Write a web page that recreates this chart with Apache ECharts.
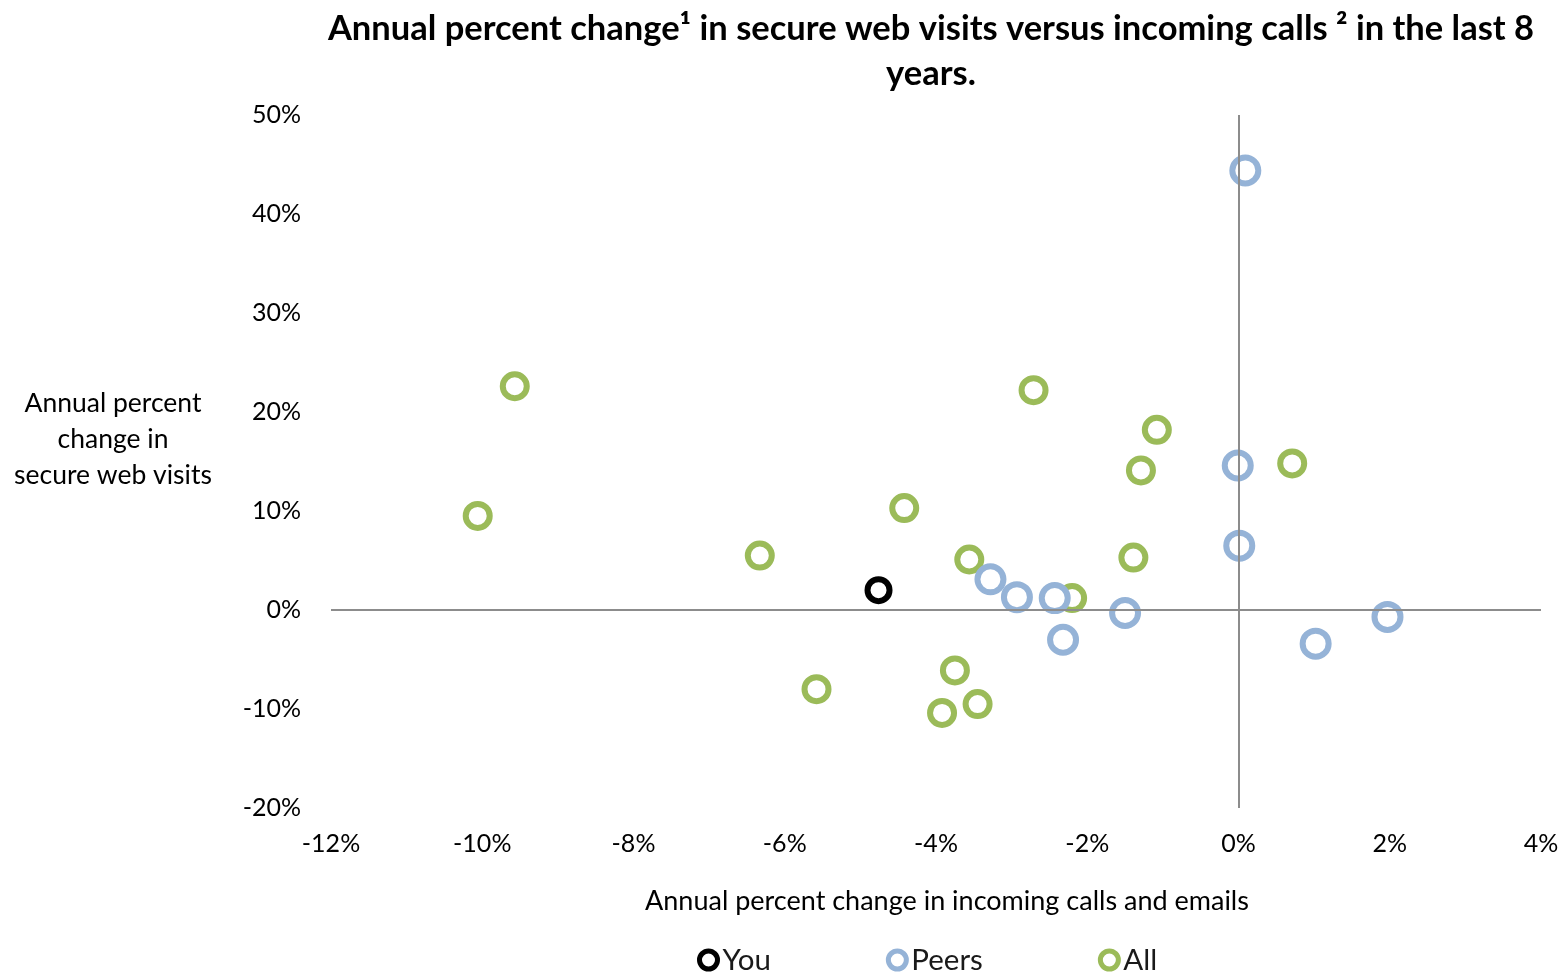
<!DOCTYPE html>
<html>
<head>
<meta charset="utf-8">
<title>Secure web visits vs incoming calls</title>
<script src="https://cdn.jsdelivr.net/npm/echarts@6/dist/echarts.min.js"></script>
<style>
  html, body { margin: 0; padding: 0; background: #ffffff; }
  #chart { width: 1564px; height: 974px; }
</style>
</head>
<body>
<div id="chart"></div>
<script>
// Annual % change in incoming calls and emails (x) vs secure web visits (y)
const youX = [-4.76];
const youY = [2.0];

const peersX = [0.09, -0.01, 0.01, -3.28, -2.93, -2.43, -2.32, -1.50, 1.02, 1.97];
const peersY = [44.4, 14.6, 6.5, 3.1, 1.3, 1.2, -3.0, -0.3, -3.4, -0.7];

const allX = [-9.57, -10.06, -6.33, -5.58, -4.42, -3.56, -3.75, -3.92, -3.45, -2.71, -2.20, -1.08, -1.29, -1.39, 0.71];
const allY = [22.6, 9.5, 5.5, -8.0, 10.3, 5.1, -6.1, -10.4, -9.5, 22.2, 1.2, 18.2, 14.1, 5.3, 14.8];

const xTicks = { min: -12, max: 4, step: 2 };
const yTicks = { min: -20, max: 50, step: 10 };

const seriesNames = ['You', 'Peers', 'All'];
const seriesColors = ['#000000', '#95B3D7', '#9BBB59'];

const titleText = 'Annual percent change\u00B9 in secure web visits versus incoming calls \u00B2 in the last 8\nyears.';
const xAxisTitle = 'Annual percent change in incoming calls and emails';
const yAxisTitle = 'Annual percent\nchange in\nsecure web visits';

const FONT = 'Lato';

function pairs(xs, ys) {
  return xs.map((x, i) => [x, ys[i]]);
}

const chart = echarts.init(document.getElementById('chart'), null, { renderer: 'canvas' });

function ringSeries(name, color, data, size, z) {
  return {
    name: name,
    type: 'scatter',
    data: data,
    symbol: 'circle',
    symbolSize: size,
    z: z,
    itemStyle: { color: '#ffffff', borderColor: color, borderWidth: 6, opacity: 1 },
    emphasis: { disabled: true }
  };
}

const allSeries = ringSeries(seriesNames[2], seriesColors[2], pairs(allX, allY), 24, 3);
const peerSeries = ringSeries(seriesNames[1], seriesColors[1], pairs(peersX, peersY), 26, 4);
const youSeries = ringSeries(seriesNames[0], seriesColors[0], pairs(youX, youY), 22, 5);

// Zero lines crossing inside the plot area
const zeroLines = {
  name: 'zero',
  type: 'scatter',
  data: [[0, 0]],
  symbolSize: 0,
  z: 1,
  silent: true,
  itemStyle: { opacity: 0 },
  markLine: {
    silent: true,
    symbol: ['none', 'none'],
    label: { show: false },
    lineStyle: { color: '#8c8c8c', width: 2, type: 'solid' },
    emphasis: { disabled: true },
    data: [{ xAxis: 0 }, { yAxis: 0 }]
  }
};

const option = {
  backgroundColor: '#ffffff',
  animation: false,
  textStyle: { fontFamily: FONT },
  title: {
    text: titleText,
    left: 926,
    top: 1,
    textAlign: 'center',
    textStyle: {
      fontFamily: FONT,
      fontSize: 34.5,
      fontWeight: 'bold',
      color: '#000000',
      lineHeight: 45
    }
  },
  legend: {
    data: seriesNames,
    left: 692,
    top: 939,
    icon: 'circle',
    itemWidth: 18,
    itemHeight: 18,
    itemGap: 115,
    itemStyle: { borderWidth: 5 },
    textStyle: { fontFamily: FONT, fontSize: 29.5, color: '#1a1a1a', lineHeight: 32 }
  },
  grid: { left: 331, right: 23, top: 115, bottom: 166, containLabel: false },
  xAxis: {
    type: 'value',
    min: xTicks.min,
    max: xTicks.max,
    interval: xTicks.step,
    name: xAxisTitle,
    nameLocation: 'middle',
    nameGap: 80,
    nameTextStyle: { fontFamily: FONT, fontSize: 27, color: '#000000', padding: [0, 0, 0, 22] },
    axisLine: { show: false },
    axisTick: { show: false },
    splitLine: { show: false },
    axisLabel: {
      margin: 23,
      fontFamily: FONT,
      fontSize: 25,
      color: '#000000',
      formatter: '{value}%'
    }
  },
  yAxis: {
    type: 'value',
    min: yTicks.min,
    max: yTicks.max,
    interval: yTicks.step,
    axisLine: { show: false },
    axisTick: { show: false },
    splitLine: { show: false },
    axisLabel: {
      margin: 30,
      fontFamily: FONT,
      fontSize: 25,
      color: '#000000',
      formatter: '{value}%'
    }
  },
  // Three-line y-axis title, positioned by its centre point
  graphic: [{
    type: 'text',
    x: 113,
    y: 439,
    style: {
      text: yAxisTitle,
      fontFamily: FONT,
      fontSize: 26.5,
      lineHeight: 36,
      fill: '#000000',
      align: 'center',
      verticalAlign: 'middle'
    }
  }],
  series: [zeroLines, youSeries, peerSeries, allSeries]
};

chart.setOption(option);
</script>
</body>
</html>
